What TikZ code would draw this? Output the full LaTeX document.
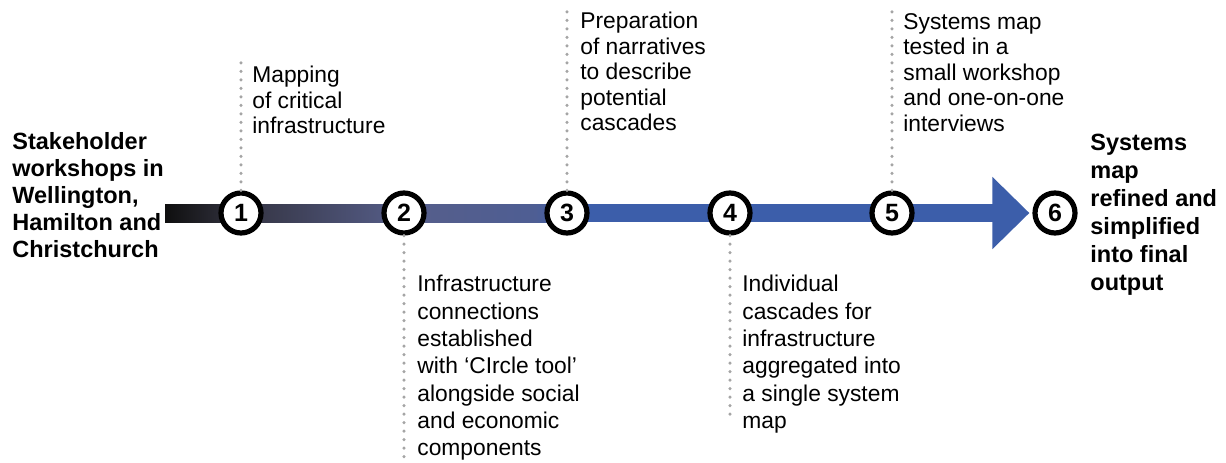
\documentclass[tikz,border=0pt]{standalone}
\usepackage{fontspec}
\setmainfont{Liberation Sans}
\usepackage{xcolor}
\usepackage{tikz}
\usetikzlibrary{positioning,calc,backgrounds,arrows.meta}
\definecolor{barblue}{RGB}{60,94,170}
\definecolor{barblack}{RGB}{15,15,15}
\definecolor{bardark}{RGB}{52,52,66}
\definecolor{bargray}{RGB}{86,94,138}
\definecolor{dotgray}{RGB}{165,165,165}
\pgfdeclarehorizontalshading{barfade}{100bp}{color(0bp)=(barblack); color(25bp)=(barblack); color(34.5bp)=(bardark); color(55bp)=(bargray); color(71bp)=(bargray!70!barblue); color(75bp)=(barblue); color(100bp)=(barblue)}
\tikzset{
    stepnum/.style={circle, draw=black, line width=2.6pt, fill=white, minimum size=20pt, inner sep=0pt, font=\bfseries\fontsize{12.5}{12.5}\selectfont},
    uptext/.style={anchor=north west, align=left, inner sep=0pt, font=\fontsize{11.4}{12.75}\selectfont},
    downtext/.style={anchor=north west, align=left, inner sep=0pt, font=\fontsize{11.4}{13.65}\selectfont},
    endtext/.style={anchor=north west, align=left, inner sep=0pt, font=\bfseries\fontsize{11.75}{13.5}\selectfont},
    dots/.style={draw=dotgray, line width=1.7pt, line cap=round, dash pattern=on 0pt off 4.25pt}
}
\begin{document}
\begin{tikzpicture}[x=0.5pt, y=-0.5pt]
    \useasboundingbox (0,0) rectangle (1226,462);
    % --- Các bước ---
    \node[stepnum] (n1) at (241,213) {1};
    \node[stepnum] (n2) at (404,213) {2};
    \node[stepnum] (n3) at (567,213) {3};
    \node[stepnum] (n4) at (730,213) {4};
    \node[stepnum] (n5) at (892,213) {5};
    \node[stepnum] (n6) at (1055,213) {6};
    \coordinate (start) at (165,213);
    % --- Thanh tiến trình ---
    \begin{scope}[on background layer]
        \shade[shading=barfade] ($(start)+(0,-9)$) rectangle ($(n3.center)+(0,9)$);
        \draw[barblue, line width=9pt, -{Triangle[length=18.5pt, width=35pt]}, shorten >=1.5pt] (n3.center) -- (n6.west);
    \end{scope}
    % --- Đường chấm ---
    \coordinate (d1) at (241,62);
    \coordinate (d2) at (404,458);
    \coordinate (d3) at (567,8);
    \coordinate (d4) at (730,415);
    \coordinate (d5) at (892,8);
    \draw[dots] (n1) -- (d1);
    \draw[dots] (n2) -- (d2);
    \draw[dots] (n3) -- (d3);
    \draw[dots] (n4) -- (d4);
    \draw[dots] (n5) -- (d5);
    % --- Chú thích ---
    \node[uptext] (t1) at (252,66) {Mapping\\of critical\\infrastructure};
    \node[downtext] (t2) at (417,275) {Infrastructure\\connections\\established\\with ‘CIrcle tool’\\alongside social\\and economic\\components};
    \node[uptext] (t3) at (580,12) {Preparation\\of narratives\\to describe\\potential\\cascades};
    \node[downtext] (t4) at (742,275) {Individual\\cascades for\\infrastructure\\aggregated into\\a single system\\map};
    \node[uptext] (t5) at (903,13) {Systems map\\tested in a\\small workshop\\and one-on-one\\interviews};
    \node[endtext] (t0) at (12,132) {Stakeholder\\workshops in\\Wellington,\\Hamilton and\\Christchurch};
    \node[endtext, font=\bfseries\fontsize{11.75}{14}\selectfont] (t6) at (1090,134) {Systems\\map\\refined and\\simplified\\into final\\output};
\end{tikzpicture}
\end{document}
